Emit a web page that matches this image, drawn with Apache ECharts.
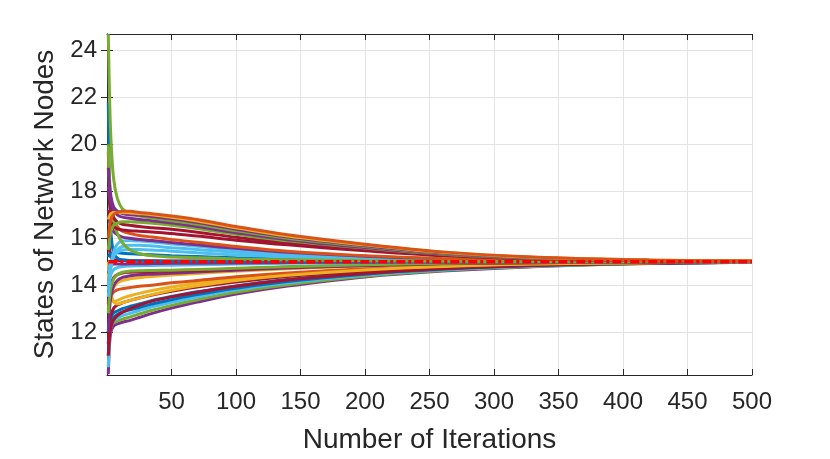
<!DOCTYPE html>
<html>
<head>
<meta charset="utf-8">
<script src="https://cdn.jsdelivr.net/npm/echarts@6/dist/echarts.min.js"></script>
<style>
	html,body{margin:0;padding:0;background:#fff;}
	#chart{width:830px;height:459px;}
</style>
</head>
<body>
<div id="chart"></div>
<script>
	var iterations = [1, 2, 3, 5, 8, 12, 18, 25, 35, 50, 70, 100, 140, 200, 260, 330, 420, 500];
	var xTicks = [50, 100, 150, 200, 250, 300, 350, 400, 450, 500];
	var yTicks = [12, 14, 16, 18, 20, 22, 24];
	var consensusValue = 15;

	// upper band
	var nodeU1 = [16.0, 16.5, 16.8, 17.0, 17.1, 17.15, 17.15, 17.1, 17.05, 16.95, 16.8, 16.5, 16.15, 15.75, 15.42, 15.2, 15.07, 15.03];
	var nodeU2 = [16.8, 16.95, 17.05, 17.1, 17.1, 17.1, 17.08, 17.05, 17.0, 16.9, 16.74, 16.45, 16.1, 15.72, 15.4, 15.19, 15.07, 15.03];
	var nodeU3 = [19.0, 18.3, 17.8, 17.35, 17.15, 17.05, 17.0, 16.98, 16.93, 16.83, 16.67, 16.38, 16.05, 15.68, 15.38, 15.18, 15.06, 15.02];
	var nodeU4 = [24.7, 22.0, 20.3, 18.6, 17.7, 17.25, 17.05, 16.95, 16.86, 16.75, 16.6, 16.32, 16.0, 15.65, 15.36, 15.17, 15.06, 15.02];
	var nodeU5 = [18.2, 17.8, 17.5, 17.2, 17.0, 16.9, 16.85, 16.8, 16.75, 16.65, 16.5, 16.24, 15.94, 15.61, 15.34, 15.16, 15.06, 15.02];
	var nodeU6 = [15.5, 16.0, 16.3, 16.55, 16.65, 16.7, 16.7, 16.68, 16.64, 16.56, 16.42, 16.17, 15.89, 15.58, 15.32, 15.15, 15.05, 15.02];
	var nodeU7 = [18.0, 17.5, 17.2, 16.9, 16.7, 16.6, 16.55, 16.5, 16.45, 16.38, 16.26, 16.04, 15.8, 15.52, 15.29, 15.14, 15.05, 15.02];
	var nodeU8 = [17.2, 16.9, 16.7, 16.5, 16.4, 16.35, 16.32, 16.3, 16.27, 16.2, 16.1, 15.92, 15.72, 15.47, 15.26, 15.12, 15.04, 15.01];
	// falling into the middle band
	var nodeM1 = [20.0, 18.5, 17.6, 16.8, 16.2, 15.8, 15.5, 15.35, 15.25, 15.2, 15.17, 15.12, 15.08, 15.04, 15.02, 15.01, 15.0, 15.0];
	var nodeM2 = [19.7, 18.0, 17.3, 16.8, 16.5, 16.3, 16.2, 16.12, 16.05, 15.95, 15.83, 15.65, 15.45, 15.26, 15.14, 15.07, 15.03, 15.01];
	var nodeM3 = [17.0, 16.7, 16.5, 16.3, 16.15, 16.05, 16.0, 15.95, 15.9, 15.82, 15.72, 15.57, 15.4, 15.23, 15.12, 15.06, 15.02, 15.01];
	// rising to ~15.9
	var nodeL1 = [14.0, 14.5, 14.9, 15.4, 15.75, 15.88, 15.9, 15.88, 15.84, 15.76, 15.66, 15.5, 15.35, 15.2, 15.1, 15.05, 15.02, 15.0];
	var nodeL2 = [13.5, 14.2, 14.7, 15.2, 15.5, 15.65, 15.7, 15.7, 15.67, 15.6, 15.52, 15.4, 15.28, 15.16, 15.08, 15.04, 15.01, 15.0];
	var nodeL3 = [14.6, 14.8, 15.0, 15.25, 15.4, 15.5, 15.52, 15.52, 15.5, 15.45, 15.38, 15.29, 15.2, 15.11, 15.06, 15.03, 15.01, 15.0];
	var nodeL4 = [15.2, 15.3, 15.35, 15.38, 15.38, 15.36, 15.34, 15.32, 15.3, 15.26, 15.22, 15.17, 15.12, 15.07, 15.04, 15.02, 15.01, 15.0];
	// near the consensus
	var nodeN1 = [21.8, 18.0, 16.3, 15.4, 15.15, 15.08, 15.05, 15.04, 15.03, 15.02, 15.02, 15.01, 15.01, 15.0, 15.0, 15.0, 15.0, 15.0];
	var nodeN2 = [14.9, 14.9, 14.9, 14.9, 14.9, 14.9, 14.91, 14.91, 14.92, 14.93, 14.94, 14.95, 14.97, 14.98, 14.99, 15.0, 15.0, 15.0];
	var nodeN3 = [16.0, 15.5, 15.2, 15.1, 15.06, 15.05, 15.05, 15.04, 15.04, 15.03, 15.03, 15.02, 15.01, 15.01, 15.0, 15.0, 15.0, 15.0];
	// just below 15
	var nodeB1 = [12.8, 13.5, 13.9, 14.25, 14.45, 14.55, 14.6, 14.62, 14.63, 14.64, 14.67, 14.72, 14.79, 14.87, 14.93, 14.97, 14.99, 15.0];
	var nodeB2 = [13.2, 13.7, 14.0, 14.3, 14.45, 14.52, 14.55, 14.56, 14.58, 14.6, 14.63, 14.69, 14.77, 14.86, 14.92, 14.96, 14.99, 15.0];
	var nodeB3 = [12.0, 13.0, 13.5, 13.95, 14.2, 14.33, 14.4, 14.44, 14.47, 14.51, 14.56, 14.64, 14.73, 14.83, 14.91, 14.96, 14.99, 15.0];
	var nodeB4 = [13.8, 14.2, 14.45, 14.65, 14.75, 14.8, 14.82, 14.83, 14.84, 14.85, 14.87, 14.9, 14.93, 14.96, 14.98, 14.99, 15.0, 15.0];
	var nodeB5 = [14.5, 14.0, 13.8, 13.9, 14.1, 14.2, 14.27, 14.32, 14.37, 14.43, 14.5, 14.59, 14.7, 14.82, 14.9, 14.95, 14.98, 15.0];
	// lower band
	var nodeW1 = [15.0, 14.2, 13.7, 13.3, 13.2, 13.25, 13.35, 13.45, 13.6, 13.78, 13.97, 14.2, 14.42, 14.65, 14.8, 14.9, 14.96, 14.99];
	var nodeW2 = [13.0, 13.3, 13.5, 13.7, 13.8, 13.85, 13.9, 13.95, 14.0, 14.1, 14.2, 14.36, 14.52, 14.7, 14.83, 14.92, 14.97, 14.99];
	var nodeW3 = [14.2, 13.8, 13.5, 13.3, 13.35, 13.45, 13.55, 13.65, 13.77, 13.92, 14.08, 14.28, 14.48, 14.68, 14.82, 14.91, 14.96, 14.99];
	var nodeW4 = [11.5, 12.3, 12.7, 13.0, 13.15, 13.25, 13.35, 13.45, 13.58, 13.74, 13.92, 14.14, 14.37, 14.6, 14.76, 14.88, 14.95, 14.99];
	var nodeW5 = [12.0, 12.4, 12.6, 12.8, 12.9, 13.0, 13.1, 13.2, 13.35, 13.52, 13.72, 13.97, 14.24, 14.52, 14.71, 14.85, 14.94, 14.98];
	var nodeW6 = [11.0, 12.0, 12.4, 12.6, 12.75, 12.85, 12.95, 13.05, 13.2, 13.38, 13.6, 13.87, 14.16, 14.47, 14.68, 14.84, 14.93, 14.98];
	var nodeW7 = [10.5, 11.7, 12.2, 12.45, 12.6, 12.7, 12.8, 12.92, 13.08, 13.27, 13.5, 13.8, 14.1, 14.43, 14.66, 14.82, 14.93, 14.98];
	var nodeW8 = [12.2, 12.3, 12.35, 12.4, 12.47, 12.55, 12.65, 12.77, 12.93, 13.14, 13.38, 13.7, 14.02, 14.38, 14.63, 14.8, 14.92, 14.98];
	var nodeW9 = [10.2, 11.5, 12.0, 12.25, 12.35, 12.42, 12.5, 12.62, 12.8, 13.02, 13.28, 13.62, 13.96, 14.35, 14.6, 14.79, 14.92, 14.98];
	var nodeW10 = [11.0, 11.8, 12.2, 12.5, 12.7, 12.85, 13.0, 13.15, 13.32, 13.5, 13.7, 13.95, 14.22, 14.5, 14.7, 14.84, 14.94, 14.98];

	// matlab default line colours
	var palette = ['#0072BD', '#D95319', '#EDB120', '#7E2F8E', '#77AC30', '#4DBEEE', '#A2142F'];
	// drawing order and colour index of each node
	var nodes = [
		[nodeW9, 3], [nodeW8, 4], [nodeW7, 5], [nodeW6, 0], [nodeW5, 0], [nodeW10, 6], [nodeW4, 6],
		[nodeW3, 2], [nodeW2, 1], [nodeW1, 2], [nodeB5, 2], [nodeB3, 3], [nodeB2, 6], [nodeB1, 4], [nodeB4, 5],
		[nodeN2, 3], [nodeN3, 6], [nodeN1, 0],
		[nodeL4, 0], [nodeL3, 5], [nodeL2, 5], [nodeL1, 5],
		[nodeM3, 3], [nodeM2, 1], [nodeM1, 4],
		[nodeU8, 6], [nodeU7, 6], [nodeU6, 4], [nodeU5, 3], [nodeU4, 4], [nodeU3, 3], [nodeU2, 2], [nodeU1, 1]
	];

	var textColor = '#262626';
	var font = 'Liberation Sans, Arial, sans-serif';

	var series = [];
	nodes.forEach(function(n){
		series.push({
			type: 'line',
			data: iterations.map(function(t, i){ return [t, n[0][i]]; }),
			smooth: 0.35,
			symbol: 'none',
			silent: true,
			lineStyle: {color: palette[n[1]], width: 3},
			z: 2
		});
	});
	// consensus value, dash-dot
	series.push({
		type: 'line',
		data: [[iterations[0], consensusValue], [iterations[iterations.length - 1], consensusValue]],
		symbol: 'none',
		silent: true,
		lineStyle: {color: '#FF0000', width: 3.5, type: [9, 3, 3, 3]},
		z: 5
	});

	var option = {
		backgroundColor: '#fff',
		animation: false,
		grid: {left: 107, right: 78, top: 34, bottom: 81},
		xAxis: [{
			type: 'value',
			min: 0,
			max: 500,
			interval: 50,
			name: 'Number of Iterations',
			nameLocation: 'middle',
			nameGap: 51,
			nameTextStyle: {color: textColor, fontSize: 28, fontFamily: font},
			axisLine: {lineStyle: {color: textColor, width: 1}},
			axisTick: {inside: true, length: 6, lineStyle: {color: textColor}},
			axisLabel: {
				color: textColor, fontSize: 24, fontFamily: font, margin: 15,
				formatter: function(v){ return xTicks.indexOf(v) >= 0 ? String(v) : ''; }
			},
			splitLine: {show: true, lineStyle: {color: '#e3e3e3', width: 1}}
		}, {
			type: 'value',
			position: 'top',
			min: 0,
			max: 500,
			interval: 50,
			axisLine: {show: true, lineStyle: {color: textColor, width: 1}},
			axisTick: {inside: true, length: 6, lineStyle: {color: textColor}},
			axisLabel: {show: false},
			splitLine: {show: false}
		}],
		yAxis: [{
			type: 'value',
			min: 10.17,
			max: 24.71,
			name: 'States of Network Nodes',
			nameLocation: 'middle',
			nameGap: 46,
			nameTextStyle: {color: textColor, fontSize: 28, fontFamily: font},
			axisLine: {show: true, lineStyle: {color: textColor, width: 1}},
			axisTick: {inside: true, length: 6, customValues: yTicks, lineStyle: {color: textColor}},
			axisLabel: {color: textColor, fontSize: 24, fontFamily: font, margin: 10, customValues: yTicks},
			splitLine: {show: true, lineStyle: {color: '#e3e3e3', width: 1}}
		}, {
			type: 'value',
			position: 'right',
			min: 10.17,
			max: 24.71,
			axisLine: {show: true, lineStyle: {color: textColor, width: 1}},
			axisTick: {inside: true, length: 6, customValues: yTicks, lineStyle: {color: textColor}},
			axisLabel: {show: false},
			splitLine: {show: false}
		}],
		series: series
	};

	var myChart = echarts.init(document.getElementById('chart'));
	myChart.setOption(option);
</script>
</body>
</html>
